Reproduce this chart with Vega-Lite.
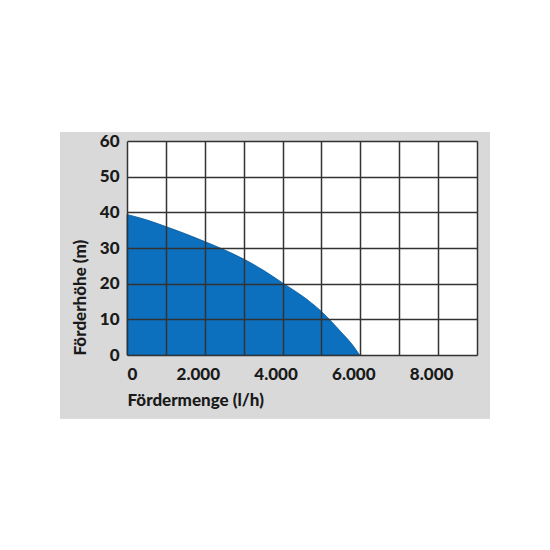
{
  "$schema": "https://vega.github.io/schema/vega-lite/v6.json",
  "width": 350,
  "height": 214,
  "autosize": {"type": "none"},
  "padding": {"left": 127, "top": 141, "right": 73, "bottom": 195},
  "background": "white",
  "config": {
    "view": {"fill": null, "stroke": null},
    "font": "Lato"
  },
  "data": {
    "values": [
      {"menge": 0, "hoehe": 39.4},
      {"menge": 500, "hoehe": 37.9},
      {"menge": 1000, "hoehe": 36.0},
      {"menge": 1500, "hoehe": 34.0},
      {"menge": 2000, "hoehe": 31.8},
      {"menge": 2500, "hoehe": 29.5},
      {"menge": 3000, "hoehe": 26.9},
      {"menge": 3500, "hoehe": 23.8},
      {"menge": 4000, "hoehe": 20.2},
      {"menge": 4500, "hoehe": 16.6},
      {"menge": 5000, "hoehe": 12.2},
      {"menge": 5500, "hoehe": 6.5},
      {"menge": 5800, "hoehe": 2.8},
      {"menge": 5980, "hoehe": 0}
    ]
  },
  "resolve": {"scale": {"x": "independent", "y": "independent"}, "axis": {"x": "independent", "y": "independent"}},
  "layer": [
    {
      "mark": {"type": "rect", "color": "#d9d9d9"},
      "encoding": {
        "x": {"datum": -1723, "type": "quantitative", "scale": {"domain": [0, 9000], "nice": false, "zero": false}, "axis": null},
        "x2": {"datum": 9334},
        "y": {"datum": 62.5, "type": "quantitative", "scale": {"domain": [0, 60], "nice": false, "zero": false}, "axis": null},
        "y2": {"datum": -17.7}
      }
    },
    {
      "mark": {"type": "rect", "color": "white"},
      "encoding": {
        "x": {"datum": 0, "type": "quantitative", "scale": {"domain": [0, 9000], "nice": false}, "axis": null},
        "x2": {"datum": 9000},
        "y": {"datum": 60, "type": "quantitative", "scale": {"domain": [0, 60], "nice": false}, "axis": null},
        "y2": {"datum": 0}
      }
    },
    {
      "mark": {"type": "area", "color": "#0c70be", "interpolate": "monotone", "stroke": "#0a5a9a", "strokeWidth": 0.8},
      "encoding": {
        "x": {
          "field": "menge",
          "type": "quantitative",
          "scale": {"domain": [0, 9000], "nice": false, "zero": true},
          "axis": {
            "orient": "bottom",
            "values": [0, 1000, 2000, 3000, 4000, 5000, 6000, 7000, 8000, 9000],
            "grid": true,
            "gridColor": "#333333",
            "gridWidth": 1.5,
            "gridOpacity": 1,
            "domain": false,
            "ticks": false,
            "labelExpr": "datum.value == 0 ? '0' : (datum.value % 2000 == 0 && datum.value < 9000 ? format(datum.value / 1000, 'd') + '.000' : '')",
            "labelFont": "Lato",
            "labelFontSize": 17,
            "labelFontWeight": 900,
            "labelColor": "#1a1a1a",
            "labelPadding": 11,
            "labelOverlap": false,
            "labelOffset": {"condition": {"test": "datum.value == 0", "value": 0}, "value": -7},
            "title": "Fördermenge (l/h)",
            "titleFont": "Lato",
            "titleFontSize": 17,
            "titleFontWeight": 900,
            "titleColor": "#1a1a1a",
            "titleAnchor": "start",
            "titlePadding": 10,
            "zindex": 1
          }
        },
        "y": {
          "field": "hoehe",
          "type": "quantitative",
          "scale": {"domain": [0, 60], "nice": false},
          "axis": {
            "orient": "left",
            "values": [0, 10, 20, 30, 40, 50, 60],
            "grid": true,
            "gridColor": "#333333",
            "gridWidth": 1.5,
            "gridOpacity": 1,
            "domain": false,
            "ticks": false,
            "labelFont": "Lato",
            "labelFontSize": 17,
            "labelFontWeight": 900,
            "labelColor": "#1a1a1a",
            "labelPadding": 8,
            "labelOverlap": false,
            "title": "Förderhöhe (m)",
            "titleFont": "Lato",
            "titleFontSize": 17,
            "titleFontWeight": 900,
            "titleColor": "#1a1a1a",
            "titleAnchor": "start",
            "titlePadding": 10,
            "zindex": 1
          }
        }
      }
    }
  ]
}
